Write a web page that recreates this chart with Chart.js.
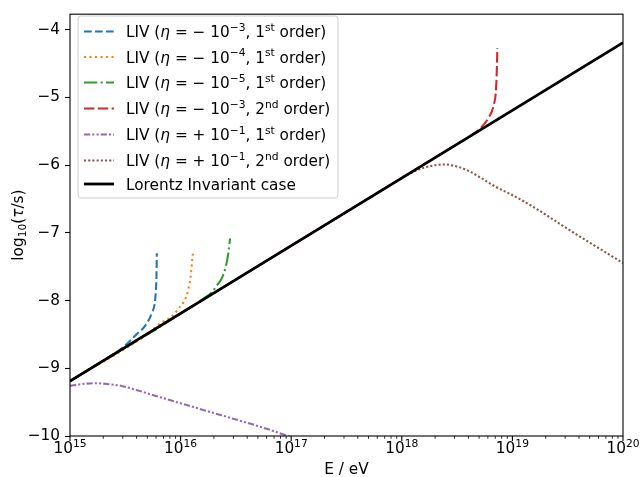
<!DOCTYPE html>
<html>
<head>
<meta charset="utf-8">
<script src="https://cdn.jsdelivr.net/npm/chart.js@4"></script>
<style>
html, body { margin: 0; padding: 0; background: #fff; }
#wrap { width: 642px; height: 477px; }
</style>
</head>
<body>
<div id="wrap"><canvas id="chart" width="642" height="477"></canvas></div>
<script>
// energies in eV, values are log10(tau / s)
let liEnergy = [1e15, 1e20];
let liTau = [-9.19, -4.19];

let blueEnergy = [1e15, 2.0e15, 2.82e15, 3.39e15, 3.98e15, 4.79e15, 5.5e15, 5.89e15, 6.05e15, 6.1e15];
let blueTau = [-9.19, -8.887, -8.728, -8.615, -8.5, -8.37, -8.18, -7.98, -7.64, -7.30];

let orangeEnergy = [1e15, 5.25e15, 6.46e15, 8.51e15, 9.55e15, 1.10e16, 1.175e16, 1.23e16, 1.27e16, 1.30e16];
let orangeTau = [-9.19, -8.47, -8.345, -8.22, -8.12, -7.98, -7.83, -7.66, -7.42, -7.27];

let greenEnergy = [1e15, 1.26e16, 1.58e16, 1.91e16, 2.14e16, 2.34e16, 2.51e16, 2.66e16, 2.75e16, 2.8e16];
let greenTau = [-9.19, -8.09, -7.98, -7.88, -7.77, -7.68, -7.55, -7.37, -7.20, -7.08];

let redEnergy = [1e15, 3.16e18, 4.17e18, 5.13e18, 6.03e18, 6.76e18, 7.11e18, 7.23e18, 7.31e18];
let redTau = [-9.19, -5.69, -5.57, -5.455, -5.31, -5.12, -4.88, -4.59, -4.27];

let purpleEnergy = [1e15, 1.26e15, 1.68e15, 2.24e15, 2.93e15, 3.98e15, 5.87e15, 1.175e16, 2.35e16, 4.71e16, 8.79e16, 1e17];
let purpleTau = [-9.26, -9.235, -9.22, -9.235, -9.26, -9.32, -9.405, -9.55, -9.695, -9.84, -9.985, -10.02];

let brownEnergy = [1e15, 7.94e17, 1e18, 1.26e18, 1.58e18, 2.0e18, 2.45e18, 3.16e18, 3.98e18, 5.1e18, 7.08e18, 1.02e19, 1.45e19, 2.04e19, 2.88e19, 4.08e19, 6.31e19, 1e20];
let brownTau = [-9.19, -6.29, -6.19, -6.10, -6.04, -6.00, -5.99, -6.02, -6.08, -6.18, -6.32, -6.45, -6.59, -6.74, -6.90, -7.055, -7.245, -7.445];

// legend text pieces
let etaSigns = ['−', '−', '−', '−', '+', '+'];
let etaExps = ['−3', '−4', '−5', '−3', '−1', '−1'];
let orderNums = ['1', '1', '1', '2', '1', '2'];
let orderSuffix = ['st', 'st', 'st', 'nd', 'st', 'nd'];
let liLabel = 'Lorentz Invariant case';

let xMajorTicks = [1e15, 1e16, 1e17, 1e18, 1e19, 1e20];
let xMinorSteps = [2, 3, 4, 5, 6, 7, 8, 9];
let yTicks = [-10, -9, -8, -7, -6, -5, -4];

const fam = "'DejaVu Sans', sans-serif";
const fs = 15.3;

let colours = ['#1f77b4', '#ff7f0e', '#2ca02c', '#d62728', '#9467bd', '#8c564b'];
let dashes = [
    [7.7, 3.3],
    [2.1, 3.4],
    [13.3, 3.3, 2.1, 3.3],
    [10.4, 3.4],
    [6.2, 2.1, 2.1, 2.1, 2.1, 2.1],
    [2.1, 2.1]
];

let xMinorTicks = [];
xMajorTicks.slice(0, -1).forEach(m => xMinorSteps.forEach(k => xMinorTicks.push(m * k)));

let toPoints = (xs, ys) => xs.map((x, i) => ({ x: x, y: ys[i] }));

let energies = [blueEnergy, orangeEnergy, greenEnergy, redEnergy, purpleEnergy, brownEnergy];
let taus = [blueTau, orangeTau, greenTau, redTau, purpleTau, brownTau];

let labelSegs = etaSigns.map((s, i) => [
    ['LIV (', 'n'], ['η', 'i'], [' = ', 'n'], [s, 'n'], [' 10', 'n'], [etaExps[i], 'sup'],
    [', ' + orderNums[i], 'n'], [orderSuffix[i], 'sup'], [' order)', 'n']
]);

// black line first so it is drawn on top
let datasets = [{
    label: liLabel,
    data: toPoints(liEnergy, liTau),
    borderColor: '#000',
    borderWidth: 2.78
}];
energies.forEach((e, i) => {
    datasets.push({
        label: 'LIV (η = ' + etaSigns[i] + '10^' + etaExps[i] + ', ' + orderNums[i] + orderSuffix[i] + ' order)',
        data: toPoints(e, taus[i]),
        borderColor: colours[i],
        borderWidth: 2.08,
        borderDash: dashes[i],
        cubicInterpolationMode: 'monotone'
    });
});

function fontFor(s) {
    let size = (s === 'sup' || s === 'sub') ? fs * 0.7 : fs;
    return (s === 'i' ? 'italic ' : '') + size + 'px ' + fam;
}

function drawRich(ctx, segs, x, y, align) {
    let w = 0;
    segs.forEach(([t, s]) => { ctx.font = fontFor(s); w += ctx.measureText(t).width; });
    let cx = align === 'center' ? x - w / 2 : x;
    ctx.textAlign = 'left';
    ctx.textBaseline = 'alphabetic';
    segs.forEach(([t, s]) => {
        ctx.font = fontFor(s);
        let dy = s === 'sup' ? -6.2 : (s === 'sub' ? 3.2 : 0);
        ctx.fillText(t, cx, y + dy);
        cx += ctx.measureText(t).width;
    });
    return w;
}

let decorations = {
    id: 'decorations',
    afterDraw(chart) {
        let ctx = chart.ctx;
        let area = chart.chartArea;
        let xs = chart.scales.x;
        ctx.save();
        ctx.fillStyle = '#000';
        ctx.strokeStyle = '#000';

        // frame
        ctx.lineWidth = 1.1;
        ctx.strokeRect(area.left, area.top, area.right - area.left, area.bottom - area.top);

        // x ticks
        xMinorTicks.forEach(v => {
            let px = xs.getPixelForValue(v);
            ctx.lineWidth = 0.8;
            ctx.beginPath(); ctx.moveTo(px, area.bottom); ctx.lineTo(px, area.bottom + 2.8); ctx.stroke();
        });
        xMajorTicks.forEach(v => {
            let px = xs.getPixelForValue(v);
            ctx.lineWidth = 1.1;
            ctx.beginPath(); ctx.moveTo(px, area.bottom); ctx.lineTo(px, area.bottom + 4.9); ctx.stroke();
            let exp = String(Math.round(Math.log10(v)));
            drawRich(ctx, [['10', 'n'], [exp, 'sup']], px, 453, 'center');
        });

        // axis titles
        drawRich(ctx, [['E / eV', 'n']], (area.left + area.right) / 2, 474, 'center');
        ctx.save();
        ctx.translate(18, (area.top + area.bottom) / 2);
        ctx.rotate(-Math.PI / 2);
        drawRich(ctx, [['log', 'n'], ['10', 'sub'], ['(', 'n'], ['τ', 'i'], ['/s)', 'n']], 0, 5, 'center');
        ctx.restore();

        // legend
        let bx = 78, by = 16, bw = 260, bh = 182, r = 3;
        ctx.beginPath();
        ctx.moveTo(bx + r, by);
        ctx.arcTo(bx + bw, by, bx + bw, by + bh, r);
        ctx.arcTo(bx + bw, by + bh, bx, by + bh, r);
        ctx.arcTo(bx, by + bh, bx, by, r);
        ctx.arcTo(bx, by, bx + bw, by, r);
        ctx.closePath();
        ctx.fillStyle = 'rgba(255,255,255,0.8)';
        ctx.fill();
        ctx.strokeStyle = '#cccccc';
        ctx.lineWidth = 1;
        ctx.stroke();

        let rows = [31.5, 57, 82.5, 108.5, 134.5, 160.5, 184];
        let order = [1, 2, 3, 4, 5, 6, 0];
        order.forEach((di, row) => {
            let ds = chart.data.datasets[di];
            let y = rows[row];
            ctx.strokeStyle = ds.borderColor;
            ctx.lineWidth = ds.borderWidth;
            ctx.setLineDash(ds.borderDash || []);
            ctx.beginPath(); ctx.moveTo(84, y); ctx.lineTo(114, y); ctx.stroke();
            ctx.setLineDash([]);
            ctx.fillStyle = '#000';
            let segs = di === 0 ? [[liLabel, 'n']] : labelSegs[di - 1];
            drawRich(ctx, segs, 126, y + 5.5, 'left');
        });
        ctx.restore();
    }
};

new Chart(document.getElementById('chart').getContext('2d'), {
    type: 'line',
    data: { datasets: datasets },
    options: {
        responsive: false,
        animation: false,
        layout: { padding: { left: 0, top: 7, right: 19, bottom: 0 } },
        plugins: { legend: { display: false }, tooltip: { enabled: false } },
        elements: { point: { radius: 0 }, line: { tension: 0, borderCapStyle: 'butt' } },
        scales: {
            x: {
                type: 'logarithmic',
                min: 1e15,
                max: 1e20,
                afterBuildTicks: s => { s.ticks = xMajorTicks.map(v => ({ value: v })); },
                afterFit: s => { s.height = 41; },
                ticks: { display: false },
                grid: { display: false },
                border: { display: false }
            },
            y: {
                type: 'linear',
                min: -10,
                max: -3.77,
                afterBuildTicks: s => { s.ticks = yTicks.map(v => ({ value: v })); },
                afterFit: s => { s.width = 70; },
                ticks: {
                    padding: 5,
                    color: '#000',
                    font: { family: fam, size: fs },
                    callback: v => (v < 0 ? '−' : '') + Math.abs(v)
                },
                grid: { drawOnChartArea: false, drawTicks: true, tickLength: 5, tickColor: '#000', tickWidth: 1.1 },
                border: { display: false }
            }
        }
    },
    plugins: [decorations]
});
</script>
</body>
</html>
